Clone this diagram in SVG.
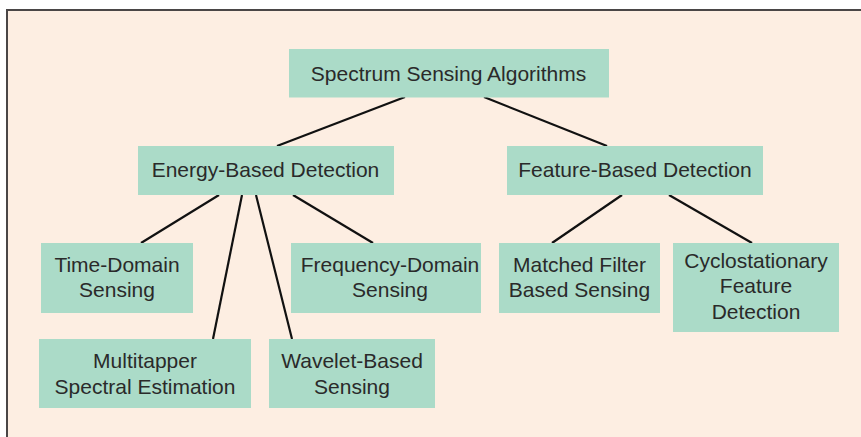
<svg xmlns="http://www.w3.org/2000/svg" width="861" height="437" viewBox="0 0 861 437">
  <style>
    .box { fill: #ABDBC8; }
    .lbl { font-family: "Liberation Sans", Arial, sans-serif; font-size: 21px; fill: #2a2a2a; text-anchor: middle; }
    .edge { stroke: #111; stroke-width: 2.2; fill: none; }
  </style>
  <!-- panel -->
  <rect x="0" y="0" width="861" height="437" fill="#ffffff"/>
  <rect x="7" y="10" width="860" height="435" fill="#FDEEE2"/>
  <path d="M7 445 V10 H861" fill="none" stroke="#4a4646" stroke-width="2"/>

  <g id="connectors">
    <line class="edge" x1="405" y1="97" x2="277" y2="146"/>
    <line class="edge" x1="484" y1="97" x2="607" y2="146"/>
    <line class="edge" x1="219" y1="195" x2="141" y2="243"/>
    <line class="edge" x1="242" y1="195" x2="213" y2="339"/>
    <line class="edge" x1="256" y1="195" x2="292" y2="339"/>
    <line class="edge" x1="293" y1="195" x2="373" y2="243"/>
    <line class="edge" x1="622" y1="195" x2="552" y2="243"/>
    <line class="edge" x1="669" y1="195" x2="752" y2="243"/>
  </g>

  <g id="root">
    <rect class="box" x="289" y="49" width="320" height="48.5"/>
    <text class="lbl" x="448.5" y="80.5">Spectrum Sensing Algorithms</text>
  </g>
  <g id="energy">
    <rect class="box" x="138" y="146" width="256" height="49"/>
    <text class="lbl" x="265.5" y="177">Energy-Based Detection</text>
  </g>
  <g id="feature">
    <rect class="box" x="507" y="146" width="256" height="49"/>
    <text class="lbl" x="635" y="177">Feature-Based Detection</text>
  </g>
  <g id="time-domain">
    <rect class="box" x="41" y="243" width="152" height="70"/>
    <text class="lbl" x="117" y="272">Time-Domain</text>
    <text class="lbl" x="117" y="297">Sensing</text>
  </g>
  <g id="frequency-domain">
    <rect class="box" x="291" y="243" width="190" height="70"/>
    <text class="lbl" x="390" y="272">Frequency-Domain</text>
    <text class="lbl" x="390" y="297">Sensing</text>
  </g>
  <g id="multitapper">
    <rect class="box" x="39" y="339" width="212" height="69"/>
    <text class="lbl" x="145" y="368">Multitapper</text>
    <text class="lbl" x="145" y="394">Spectral Estimation</text>
  </g>
  <g id="wavelet">
    <rect class="box" x="269" y="339" width="166" height="69"/>
    <text class="lbl" x="352" y="368">Wavelet-Based</text>
    <text class="lbl" x="352" y="394">Sensing</text>
  </g>
  <g id="matched-filter">
    <rect class="box" x="499" y="243" width="161" height="70"/>
    <text class="lbl" x="579.5" y="272">Matched Filter</text>
    <text class="lbl" x="579.5" y="297">Based Sensing</text>
  </g>
  <g id="cyclostationary">
    <rect class="box" x="673" y="243" width="166" height="89"/>
    <text class="lbl" x="756" y="268">Cyclostationary</text>
    <text class="lbl" x="756" y="293">Feature</text>
    <text class="lbl" x="756" y="319">Detection</text>
  </g>
</svg>
